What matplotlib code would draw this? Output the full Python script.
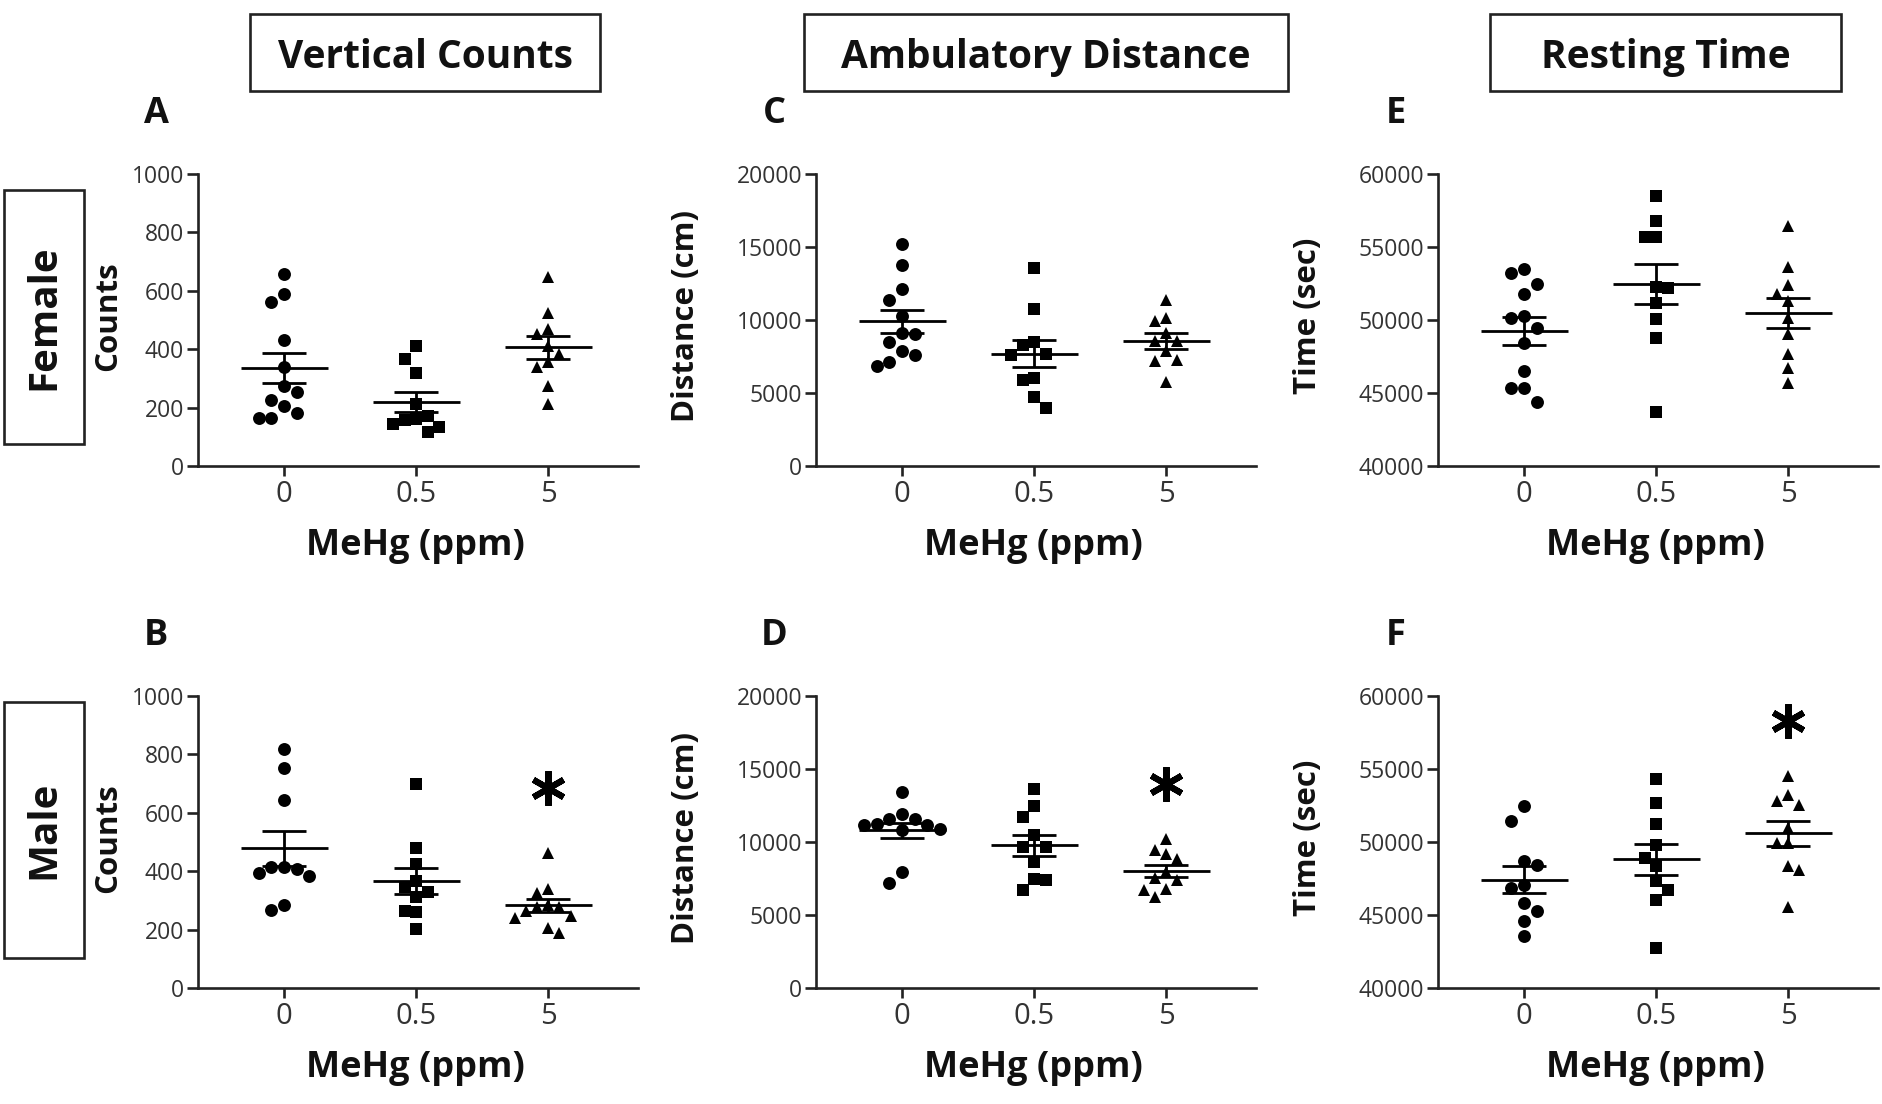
import numpy as np
import matplotlib
matplotlib.use("Agg")
import matplotlib.pyplot as plt
from matplotlib.patches import Rectangle

plt.rcParams['font.family'] = ['Open Sans', 'DejaVu Sans']

# ---------------- data ----------------
doses = ["0", "0.5", "5"]

# Vertical counts
vc_female_0 = [659, 588, 561, 430, 338, 275, 252, 226, 206, 183, 164, 164]
vc_female_05 = [412, 365, 320, 212, 172, 160, 157, 143, 132, 115]
vc_female_5 = [647, 523, 470, 452, 412, 384, 355, 338, 275, 212]
vc_male_0 = [817, 752, 644, 416, 416, 407, 393, 382, 285, 268]
vc_male_05 = [697, 481, 424, 365, 346, 330, 310, 264, 261, 202]
vc_male_5 = [464, 338, 327, 285, 278, 276, 264, 247, 239, 205, 190]

# Ambulatory distance (cm)
ad_female_0 = [15183, 13739, 12156, 11399, 10252, 9106, 9037, 8486, 7890, 7615, 7110, 6858]
ad_female_05 = [13578, 10780, 8500, 8300, 7700, 7600, 6009, 5894, 4748, 3945]
ad_female_5 = [11399, 10138, 9908, 9106, 8532, 8532, 7844, 7271, 7202, 5734]
ad_male_0 = [13409, 11932, 11591, 11591, 11205, 11136, 11136, 10909, 10795, 7955, 7159]
ad_male_05 = [13636, 12500, 11705, 10455, 9659, 9659, 8636, 7455, 7386, 6705]
ad_male_5 = [10227, 9477, 9205, 8818, 7955, 7568, 7386, 6750, 6705, 6250]

# Resting time (sec)
rt_female_0 = [53470, 53242, 52443, 51758, 50274, 50160, 49475, 48447, 46507, 45365, 45365, 44406]
rt_female_05 = [58493, 56781, 55685, 55685, 52260, 52169, 51187, 50046, 48790, 43721]
rt_female_5 = [56438, 53630, 52397, 51804, 51301, 50160, 49018, 47694, 46735, 45708]
rt_male_0 = [52443, 51416, 48676, 48447, 47078, 46849, 45822, 45251, 44612, 43539]
rt_male_05 = [54338, 52671, 51233, 49817, 48904, 48333, 47306, 46735, 46050, 42740]
rt_male_5 = [54498, 53196, 52785, 52557, 50959, 49932, 49932, 48333, 48105, 45525]

# significance markers (level of the asterisk above the 5 ppm group)
asterisk_vc_male = 685
asterisk_ad_male = 13970
asterisk_rt_male = 58280

column_titles = ["Vertical Counts", "Ambulatory Distance", "Resting Time"]
row_titles = ["Female", "Male"]

# ---------------- figure ----------------
W, H = 1882, 1104
fig = plt.figure(figsize=(W / 100, H / 100), dpi=100)

col_left = [198, 816, 1438]
ax_w = 440
row_top = [174, 696]
ax_h = 292

markers = ['o', 's', '^']
msizes = [9.3, 8.4, 8.2]

TEXT = '#111111'
TICKC = '#333333'


def column_offsets(ax, values, vgap_px, step_px):
    t = ax.transData
    vals = np.asarray(values, dtype=float)
    ypx = t.transform(np.column_stack([np.zeros(len(vals)), vals]))[:, 1]
    unit_px = t.transform((1, 0))[0] - t.transform((0, 0))[0]
    order = np.argsort(-vals, kind='stable')
    cols = {}
    res = np.zeros(len(vals))

    def free(k, y):
        return all(abs(y - yy) >= vgap_px for yy in cols.get(k, []))

    for i in order:
        y = ypx[i]
        ksel = 0
        for k in [0, -1, 1, -2, 2, -3, 3, -4, 4, -5, 5]:
            if free(k, y):
                ksel = k
                break
        if ksel < 0 and free(-ksel, y) and len(cols.get(-ksel, [])) < len(cols.get(ksel, [])):
            ksel = -ksel
        cols.setdefault(ksel, []).append(y)
        res[i] = ksel * step_px / unit_px
    return res


panels = [
    (0, 0, 'A', [vc_female_0, vc_female_05, vc_female_5], (0, 1000), 200, 'Counts', None),
    (1, 0, 'B', [vc_male_0, vc_male_05, vc_male_5], (0, 1000), 200, 'Counts', asterisk_vc_male),
    (0, 1, 'C', [ad_female_0, ad_female_05, ad_female_5], (0, 20000), 5000, 'Distance (cm)', None),
    (1, 1, 'D', [ad_male_0, ad_male_05, ad_male_5], (0, 20000), 5000, 'Distance (cm)', asterisk_ad_male),
    (0, 2, 'E', [rt_female_0, rt_female_05, rt_female_5], (40000, 60000), 5000, 'Time (sec)', None),
    (1, 2, 'F', [rt_male_0, rt_male_05, rt_male_5], (40000, 60000), 5000, 'Time (sec)', asterisk_rt_male),
]

ylabel_x = [108, 686, 1308]

for r, c, letter, groups, ylim, ystep, ylab, ast in panels:
    left = col_left[c]
    top = row_top[r]
    ax = fig.add_axes([left / W, 1 - (top + ax_h) / H, ax_w / W, ax_h / H])
    ax.set_xlim(-0.652, 2.68)
    ax.set_ylim(*ylim)
    for s in ['top', 'right']:
        ax.spines[s].set_visible(False)
    for s in ['left', 'bottom']:
        ax.spines[s].set_linewidth(1.9)
        ax.spines[s].set_color('#222222')
    ax.set_yticks(np.arange(ylim[0], ylim[1] + 1, ystep))
    ax.set_xticks(range(len(doses)))
    ax.set_xticklabels(doses)
    ax.tick_params(axis='y', length=8, width=1.9, color='#222222', pad=2,
                   labelsize=16.5, labelcolor=TICKC)
    ax.tick_params(axis='x', length=7, width=1.9, color='#222222', pad=3,
                   labelsize=21, labelcolor=TICKC)

    for gi, vals in enumerate(groups):
        ms = msizes[gi]
        diam = ms * 100 / 72.0
        offs = column_offsets(ax, vals, diam * 1.2, diam * 0.98)
        ax.plot(gi + offs, vals, linestyle='none', marker=markers[gi],
                markersize=ms, color='black', markeredgewidth=0, zorder=3)
        arr = np.asarray(vals, dtype=float)
        m = arr.mean()
        sem = arr.std(ddof=1) / np.sqrt(len(arr))
        ax.hlines(m, gi - 0.33, gi + 0.33, color='black', lw=2.0, zorder=4)
        ax.vlines(gi, m - sem, m + sem, color='black', lw=2.0, zorder=4)
        ax.hlines([m - sem, m + sem], gi - 0.165, gi + 0.165, color='black', lw=2.0, zorder=4)

    if ast is not None:
        ax.plot([2], [ast], linestyle='none', marker=(6, 2, 0), markersize=25,
                markeredgewidth=4.4, color='black', zorder=5)

    ax.set_ylabel(ylab, fontsize=22.5, fontweight='bold', color=TEXT, va='center')
    ax.yaxis.set_label_coords((ylabel_x[c] - left) / ax_w, 0.5 + 4 / ax_h)
    ax.set_xlabel('MeHg (ppm)', fontsize=26, fontweight='bold', color=TEXT, va='center')
    ax.xaxis.set_label_coords(0.495, -80 / ax_h)

    # panel letter
    fig.text((left - 42) / W, 1 - (top - 60) / H, letter, fontsize=26, fontweight='bold',
             color=TEXT, ha='center', va='center')

# column title boxes
title_boxes = [(250, 600), (804, 1288), (1490, 1841)]
for (x0, x1), t in zip(title_boxes, column_titles):
    y0, y1 = 14, 91
    fig.add_artist(Rectangle((x0 / W, 1 - y1 / H), (x1 - x0) / W, (y1 - y0) / H,
                             transform=fig.transFigure, fill=False, lw=1.9,
                             edgecolor='#222222'))
    fig.text((x0 + x1) / 2 / W, 1 - ((y0 + y1) / 2 + 5) / H, t, fontsize=28, fontweight='bold',
             color=TEXT, ha='center', va='center')

# row title boxes
row_boxes = [(190, 444), (702, 958)]
for (y0, y1), t in zip(row_boxes, row_titles):
    x0, x1 = 4, 84
    fig.add_artist(Rectangle((x0 / W, 1 - y1 / H), (x1 - x0) / W, (y1 - y0) / H,
                             transform=fig.transFigure, fill=False, lw=1.9,
                             edgecolor='#222222'))
    fig.text((x0 + x1) / 2 / W, 1 - (y0 + y1) / 2 / H, t, fontsize=29, fontweight='bold',
             color=TEXT, ha='center', va='center', rotation=90)

fig.savefig('out.png', dpi=100, facecolor='white')
